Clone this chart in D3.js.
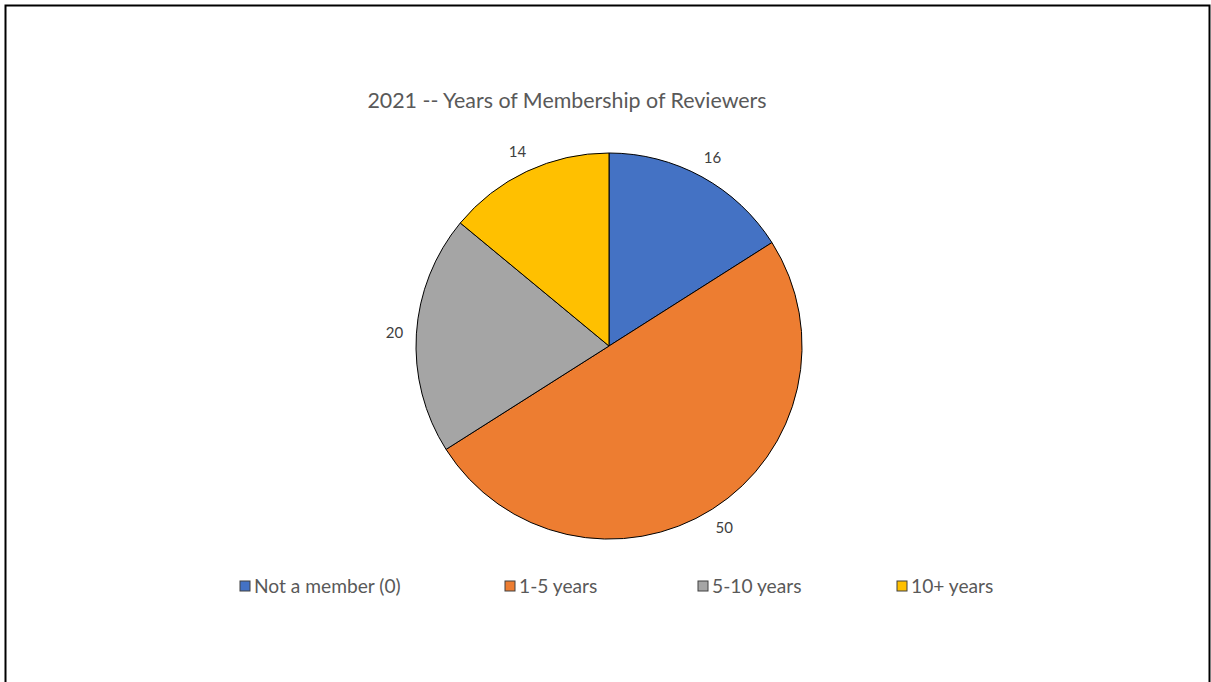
<!DOCTYPE html>
<html>
<head>
<meta charset="utf-8">
<script src="https://cdn.jsdelivr.net/npm/d3@7"></script>
<style>
  body { margin: 0; background: #fff; }
  text { font-family: Lato, "Open Sans", sans-serif; }
</style>
</head>
<body>
<div id="chart"></div>
<script>
var categories = ["Not a member (0)", "1-5 years", "5-10 years", "10+ years"];
var counts = [16, 50, 20, 14];
var colors = ["#4472C4", "#ED7D31", "#A5A5A5", "#FFC000"];
var legendX = [240, 505, 698, 897];

var svgWidth = 1211;
var svgHeight = 682;

var svg = d3.select("#chart")
  .append("svg")
  .attr("width", svgWidth)
  .attr("height", svgHeight);

// outer frame
svg.append("rect")
  .attr("x", 5.5)
  .attr("y", 5.5)
  .attr("width", 1204)
  .attr("height", 700)
  .attr("fill", "none")
  .attr("stroke", "#000")
  .attr("stroke-width", 2);

svg.append("text")
  .attr("x", 567)
  .attr("y", 108)
  .attr("text-anchor", "middle")
  .attr("fill", "#595959")
  .style("font-size", "21.4px")
  .text("2021 -- Years of Membership of Reviewers");

var cx = 609, cy = 346, radius = 193;

var pie = d3.pie().sort(null).value(d => d);
var arcs = pie(counts);
var arc = d3.arc().innerRadius(0).outerRadius(radius);
var labelArc = d3.arc().innerRadius(radius + 22).outerRadius(radius + 22);

var pieGroup = svg.append("g")
  .attr("transform", `translate(${cx}, ${cy})`);

pieGroup.selectAll("path")
  .data(arcs)
  .enter()
  .append("path")
  .attr("d", arc)
  .attr("fill", (d, i) => colors[i])
  .attr("stroke", "#000")
  .attr("stroke-width", 1);

pieGroup.selectAll("text")
  .data(arcs)
  .enter()
  .append("text")
  .attr("transform", d => `translate(${labelArc.centroid(d)})`)
  .attr("text-anchor", "middle")
  .attr("dy", "0.35em")
  .attr("fill", "#404040")
  .style("font-size", "15px")
  .text(d => d.data);

// legend
var legend = svg.selectAll(".legend")
  .data(categories)
  .enter()
  .append("g")
  .attr("class", "legend")
  .attr("transform", (d, i) => `translate(${legendX[i]}, 586)`);

legend.append("rect")
  .attr("x", 0)
  .attr("y", -5)
  .attr("width", 10)
  .attr("height", 10)
  .attr("fill", (d, i) => colors[i])
  .attr("stroke", "#404040")
  .attr("stroke-width", 1);

legend.append("text")
  .attr("x", 14)
  .attr("dy", "0.35em")
  .attr("fill", "#595959")
  .style("font-size", "19.2px")
  .text(d => d);
</script>
</body>
</html>
